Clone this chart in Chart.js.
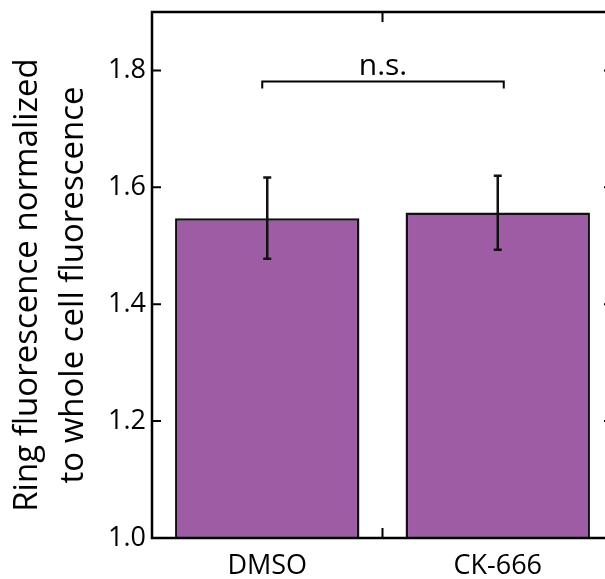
<!DOCTYPE html>
<html><head><meta charset="utf-8">
<script src="https://cdn.jsdelivr.net/npm/chart.js@4.4.1/dist/chart.umd.min.js"></script>
<style>html,body{margin:0;padding:0;overflow:hidden;background:#fff}#wrap{width:630px;height:579px}</style>
</head><body><div id="wrap"><canvas id="c" width="630" height="579"></canvas></div>
<script>
const categories = ['DMSO', 'CK-666'];
const means = [1.547, 1.557];
const errLow = [1.478, 1.493];
const errHigh = [1.617, 1.620];
const yTicks = [1.0, 1.2, 1.4, 1.6, 1.8];
const yMin = 1.0, yMax = 1.9;
const sigLabel = 'n.s.';
const sigLevel = 1.781;
const yTitle = ['Ring fluorescence normalized', 'to whole cell fluorescence'];

const FONT = '"Open Sans", "DejaVu Sans", sans-serif';
const INK = '#000';

const decor = {
  id: 'decor',
  afterDatasetsDraw(chart) {
    const ctx = chart.ctx;
    const a = chart.chartArea;
    const x = chart.scales.x, y = chart.scales.y;
    ctx.save();
    // error bars
    ctx.strokeStyle = '#111';
    ctx.lineWidth = 2.5;
    for (let i = 0; i < categories.length; i++) {
      const cx = x.getPixelForValue(i);
      const yt = y.getPixelForValue(errHigh[i]);
      const yb = y.getPixelForValue(errLow[i]);
      ctx.beginPath();
      ctx.moveTo(cx, yt); ctx.lineTo(cx, yb);
      ctx.moveTo(cx - 4, yt); ctx.lineTo(cx + 4, yt);
      ctx.moveTo(cx - 4, yb); ctx.lineTo(cx + 4, yb);
      ctx.stroke();
    }
    // significance bracket
    const x0 = x.getPixelForValue(0) - 5, x1 = x.getPixelForValue(1) + 6;
    const yb = y.getPixelForValue(sigLevel);
    ctx.lineWidth = 2;
    ctx.strokeStyle = INK;
    ctx.beginPath();
    ctx.moveTo(x0, yb + 7); ctx.lineTo(x0, yb); ctx.lineTo(x1, yb); ctx.lineTo(x1, yb + 7);
    ctx.stroke();
    ctx.fillStyle = INK;
    ctx.font = '30px ' + FONT;
    ctx.textAlign = 'center';
    ctx.textBaseline = 'alphabetic';
    ctx.fillText(sigLabel, (x0 + x1) / 2, yb - 7);
    // frame
    ctx.lineWidth = 2.5;
    ctx.strokeStyle = INK;
    ctx.strokeRect(a.left, a.top, a.right - a.left, a.bottom - a.top);
    // inward ticks
    ctx.lineWidth = 2;
    ctx.beginPath();
    yTicks.forEach(v => {
      const py = y.getPixelForValue(v);
      ctx.moveTo(a.left, py); ctx.lineTo(a.left + 9, py);
      ctx.moveTo(a.right, py); ctx.lineTo(a.right - 9, py);
    });
    for (let i = 0; i < categories.length - 1; i++) {
      const px = (x.getPixelForValue(i) + x.getPixelForValue(i + 1)) / 2;
      ctx.moveTo(px, a.bottom); ctx.lineTo(px, a.bottom - 10);
      ctx.moveTo(px, a.top); ctx.lineTo(px, a.top + 10);
    }
    ctx.stroke();
    // y title
    ctx.font = '33px ' + FONT;
    ctx.textAlign = 'center';
    ctx.textBaseline = 'alphabetic';
    const cy = (a.top + a.bottom) / 2 + 10;
    ctx.translate(37, cy);
    ctx.rotate(-Math.PI / 2);
    ctx.fillText(yTitle[0], 0, 0);
    ctx.fillText(yTitle[1], 0, 46);
    ctx.restore();
  }
};

new Chart(document.getElementById('c'), {
  type: 'bar',
  data: {
    labels: categories,
    datasets: [{
      data: means,
      backgroundColor: '#9d5ca4',
      borderColor: '#111',
      borderWidth: 2.5,
      borderSkipped: false,
      barPercentage: 0.8,
      categoryPercentage: 1.0
    }]
  },
  options: {
    responsive: false,
    animation: false,
    devicePixelRatio: 1,
    layout: { padding: { top: 12, right: 17, left: 0, bottom: 0 } },
    plugins: { legend: { display: false }, tooltip: { enabled: false } },
    scales: {
      x: {
        grid: { display: false, drawTicks: false },
        border: { display: false },
        ticks: { color: INK, font: { family: FONT, size: 27 }, padding: 12 },
        afterFit(s) { s.height = 41; s.paddingLeft = 0; s.paddingRight = 0; }
      },
      y: {
        min: yMin, max: yMax,
        grid: { display: false, drawTicks: false },
        border: { display: false },
        afterBuildTicks(s) { s.ticks = yTicks.map(v => ({ value: v })); },
        ticks: { color: INK, font: { family: FONT, size: 27 }, padding: 6,
          callback: v => Number(v).toFixed(1) },
        afterFit(s) { s.width = 152; s.paddingTop = 0; s.paddingBottom = 0; }
      }
    }
  },
  plugins: [decor]
});
</script>
</body></html>
